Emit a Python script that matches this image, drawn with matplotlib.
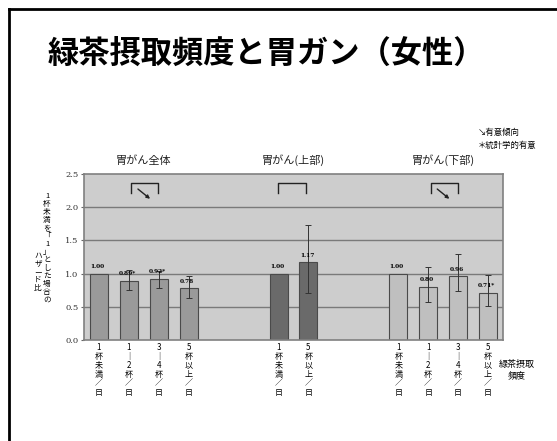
import numpy as np
import matplotlib
matplotlib.use('Agg')
import matplotlib.pyplot as plt
from matplotlib.lines import Line2D

plt.rcParams['font.family'] = ['Noto Sans CJK JP', 'DejaVu Sans']

# data
title = '緑茶摂取頻度と胃ガン（女性）'
groups = ['胃がん全体', '胃がん(上部)', '胃がん(下部)']
positions = [[0, 1, 2, 3], [6, 7], [10, 11, 12, 13]]
values = [[1.00, 0.89, 0.92, 0.78], [1.00, 1.17], [1.00, 0.80, 0.96, 0.71]]
lower = [[1.00, 0.75, 0.79, 0.63], [1.00, 0.71], [1.00, 0.57, 0.74, 0.51]]
upper = [[1.00, 1.05, 1.04, 0.96], [1.00, 1.73], [1.00, 1.10, 1.30, 0.98]]
value_labels = [['1.00', '0.89*', '0.92*', '0.78'], ['1.00', '1.17'],
                ['1.00', '0.80', '0.96', '0.71*']]
cat_labels = ['1杯未満／日', '1～2杯／日', '3～4杯／日', '5杯以上／日']
group_cats = [[0, 1, 2, 3], [0, 3], [0, 1, 2, 3]]
trend = [True, False, True]
bar_colors = ['#9a9a9a', '#6a6a6a', '#bfbfbf']


def vert(s):
    return '\n'.join('｜' if c == '～' else c for c in s)


fig = plt.figure(figsize=(5.57, 4.41), dpi=100)

# slide frame
fig.add_artist(Line2D([9 / 557, 1.0], [1 - 9 / 441, 1 - 9 / 441], color='black', lw=2))
fig.add_artist(Line2D([9 / 557, 9 / 557], [0, 1 - 9 / 441], color='black', lw=2))
fig.text(48 / 557, 1 - 54 / 441, title, fontsize=22.5, fontweight='semibold',
         va='center', ha='left')

ax = fig.add_axes([84 / 557, 101 / 441, 419 / 557, 166 / 441])
ax.set_facecolor('#cdcdcd')
ax.set_xlim(-0.5, 13.5)
ax.set_ylim(0, 2.5)
for y in [0.5, 1.0, 1.5, 2.0]:
    ax.axhline(y, color='#7a7a7a', lw=1.0, zorder=1)

ticks, ticklabels = [], []
for g in range(3):
    pos = positions[g]
    vals = np.array(values[g])
    err = [vals - np.array(lower[g]), np.array(upper[g]) - vals]
    ax.bar(pos, vals, width=0.6, color=bar_colors[g], edgecolor='#4a4a4a', lw=0.8, zorder=2)
    for i, p in enumerate(pos):
        if upper[g][i] != lower[g][i]:
            ax.errorbar(p, vals[i], yerr=[[err[0][i]], [err[1][i]]], fmt='none',
                        ecolor='#333333', elinewidth=0.7, capsize=2.5, capthick=0.7, zorder=3)
        ax.text(p - 0.05, vals[i] + 0.07, value_labels[g][i], fontsize=4.2,
                fontweight='bold', family='DejaVu Serif', ha='center', va='bottom', zorder=4)
        ticks.append(p)
        ticklabels.append(vert(cat_labels[group_cats[g][i]]))
    # group title
    cx = (pos[0] + pos[-1]) / 2
    ax.text(cx, 2.62, groups[g], fontsize=8, ha='center', va='bottom', color='#222222')
    # bracket
    x0, x1 = pos[0] + 1.08, pos[0] + 1.98
    if g == 1:
        x0, x1 = 5.98, 6.92
    ax.plot([x0, x0, x1, x1], [2.22, 2.36, 2.36, 2.22], color='#222222', lw=1.0, zorder=4)
    if trend[g]:
        ax.annotate('', xy=(x0 + 0.7, 2.1), xytext=(x0 + 0.15, 2.3),
                    arrowprops=dict(arrowstyle='-|>', color='#222222', lw=1.0,
                                    mutation_scale=5), zorder=4)

ax.set_xticks(ticks)
ax.set_xticklabels(ticklabels, fontsize=5.8, linespacing=1.0, va='top')
ax.tick_params(axis='x', length=0, pad=2)
ax.set_yticks([0, 0.5, 1.0, 1.5, 2.0, 2.5])
ax.set_yticklabels(['0.0', '0.5', '1.0', '1.5', '2.0', '2.5'], fontsize=6,
                   family='DejaVu Serif', color='#333333')
ax.tick_params(axis='y', length=2, pad=2, color='#666666')
for s in ax.spines.values():
    s.set_color('#808080')
    s.set_linewidth(1.2)

# y label (vertical writing)
fig.text(47 / 557, 1 - 248 / 441, vert('1杯未満を「1」とした場合の'), fontsize=5.5,
         ha='center', va='center', linespacing=1.0)
fig.text(38 / 557, 1 - 272 / 441, vert('ハザード比'), fontsize=5.5,
         ha='center', va='center', linespacing=1.0)

# legend notes
fig.text(478 / 557, 1 - 132 / 441, '↘有意傾向', fontsize=6, ha='left', va='center')
fig.text(478 / 557, 1 - 145 / 441, '＊統計学的有意', fontsize=6, ha='left', va='center')

fig.text(517 / 557, 1 - 370 / 441, '緑茶摂取\n頻度', fontsize=6.5, ha='center', va='center',
         linespacing=1.3)

fig.savefig('out.png', dpi=100)
